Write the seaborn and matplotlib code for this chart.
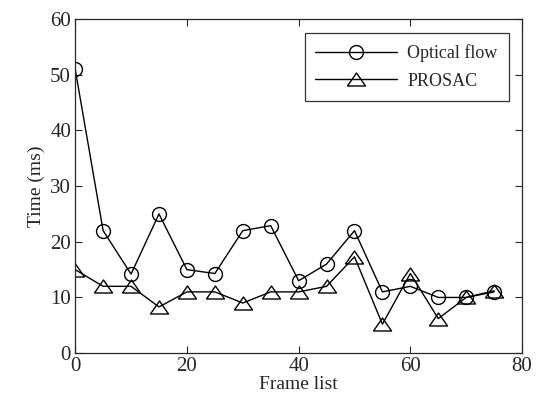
import numpy as np
import pandas as pd
import matplotlib
matplotlib.use('Agg')
import matplotlib.pyplot as plt
import seaborn as sns

frames = [0, 5, 10, 15, 20, 25, 30, 35, 40, 45, 50, 55, 60, 65, 70, 75]
optical_flow = [51, 22, 14.2, 25, 15, 14.3, 22, 22.9, 13, 16, 22, 11, 12, 10, 10, 11]
prosac = [15, 12, 12, 8.3, 11, 11, 9, 11, 11, 12, 17.3, 5.2, 14.3, 6.2, 10, 11.2]

sns.set_style('ticks')
plt.rcParams['font.family'] = ['Liberation Serif', 'DejaVu Serif']
plt.rcParams['xtick.direction'] = 'in'
plt.rcParams['ytick.direction'] = 'in'

# flat open triangle, wider than tall like the original
tri = [(-1, -0.72), (1, -0.72), (0, 0.72), (-1, -0.72)]

fig = plt.figure(figsize=(5.41, 3.99), dpi=100)
ax = fig.add_axes([0.139, 0.115, 0.826, 0.837])

sns.lineplot(x=frames, y=optical_flow, ax=ax, color='black', linewidth=1.0,
             marker='o', markersize=10, markerfacecolor='none',
             markeredgecolor='black', markeredgewidth=1.0, label='Optical flow')
sns.lineplot(x=frames, y=prosac, ax=ax, color='black', linewidth=1.0,
             marker=tri, markersize=13, markerfacecolor='none',
             markeredgecolor='black', markeredgewidth=1.0, label='PROSAC')

ax.set_xlim(0, 80)
ax.set_ylim(0, 60)
ax.set_xticks([0, 20, 40, 60, 80])
ax.set_yticks([0, 10, 20, 30, 40, 50, 60])
ax.tick_params(labelsize=15, top=True, right=True, length=5, width=0.8, pad=3)
ax.set_xlabel('Frame list', fontsize=14, labelpad=0)
ax.set_ylabel('Time (ms)', fontsize=14, labelpad=4)
for s in ax.spines.values():
    s.set_linewidth(0.9)

leg = ax.legend(loc='upper right', fontsize=13, frameon=True, fancybox=False,
                edgecolor='black', handlelength=4.5, handletextpad=0.6,
                borderpad=0.6, labelspacing=0.6, bbox_to_anchor=(0.99, 0.985))
leg.get_frame().set_linewidth(0.9)

fig.savefig('out.png', dpi=100)
